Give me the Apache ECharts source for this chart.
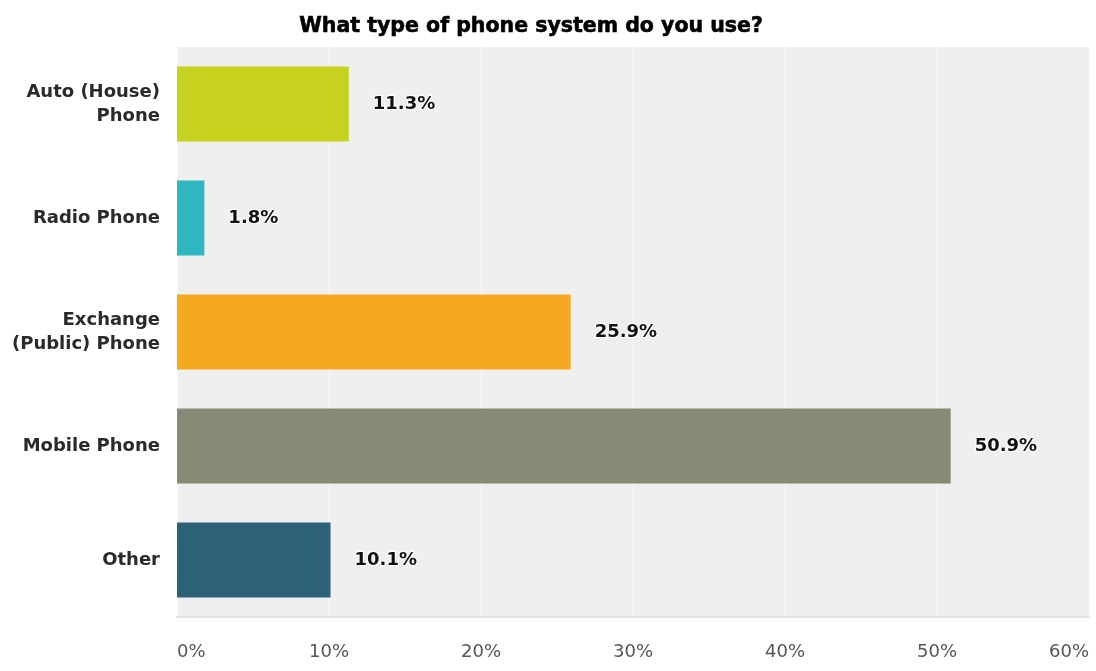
<!DOCTYPE html>
<html>
<head>
<meta charset="utf-8">
<script src="https://cdn.jsdelivr.net/npm/echarts@6/dist/echarts.min.js"></script>
<style>html,body{margin:0;padding:0;background:#fff;}#c{width:1096px;height:671px;}</style>
</head>
<body>
<div id="c"></div>
<script>
const titleText = 'What type of phone system do you use?';
const categories = ['Auto (House)\nPhone', 'Radio Phone', 'Exchange\n(Public) Phone', 'Mobile Phone', 'Other'];
const values = [11.3, 1.8, 25.9, 50.9, 10.1];
const barColors = ['#c6d21d', '#2fb7bf', '#f6a821', '#878a75', '#2c6376'];
const xTicks = [0, 10, 20, 30, 40, 50, 60];

const chart = echarts.init(document.getElementById('c'), null, {renderer: 'canvas'});
chart.setOption({
  animation: false,
  title: {
    text: titleText,
    left: 526, textAlign: 'center', top: 11,
    textStyle: {fontFamily: 'DejaVu Sans', fontWeight: 'bold', fontSize: 20.5, color: '#000',
      textBorderColor: '#000', textBorderWidth: 0.6}
  },
  grid: {
    left: 177, right: 7, top: 47, bottom: 54,
    show: true, backgroundColor: '#efefef', borderWidth: 0
  },
  xAxis: {
    type: 'value', min: xTicks[0], max: xTicks[xTicks.length - 1], interval: 10,
    axisLine: {show: true, lineStyle: {color: '#e2e2e2', width: 2}},
    axisTick: {show: false},
    splitLine: {show: true, lineStyle: {color: '#fafafa', width: 1}},
    axisLabel: {
      formatter: v => v + '%', margin: 26, color: '#555',
      fontFamily: 'DejaVu Sans', fontSize: 18,
      alignMinLabel: 'left', alignMaxLabel: 'right'
    }
  },
  yAxis: {
    type: 'category', data: categories, inverse: true,
    axisLine: {show: false}, axisTick: {show: false},
    axisLabel: {
      margin: 17, color: '#2a2a2a', fontFamily: 'DejaVu Sans',
      fontWeight: 'bold', fontSize: 18, lineHeight: 24, align: 'right'
    }
  },
  series: [{
    type: 'bar',
    data: values.map((v, i) => ({value: v, itemStyle: {color: barColors[i]}})),
    barCategoryGap: '34%',
    label: {
      show: true, position: 'right', distance: 24,
      formatter: p => p.value.toFixed(1) + '%',
      fontFamily: 'DejaVu Sans', fontWeight: 'bold', fontSize: 18, color: '#111',
      textBorderColor: '#ffffff', textBorderWidth: 2
    }
  }]
});
</script>
</body>
</html>
